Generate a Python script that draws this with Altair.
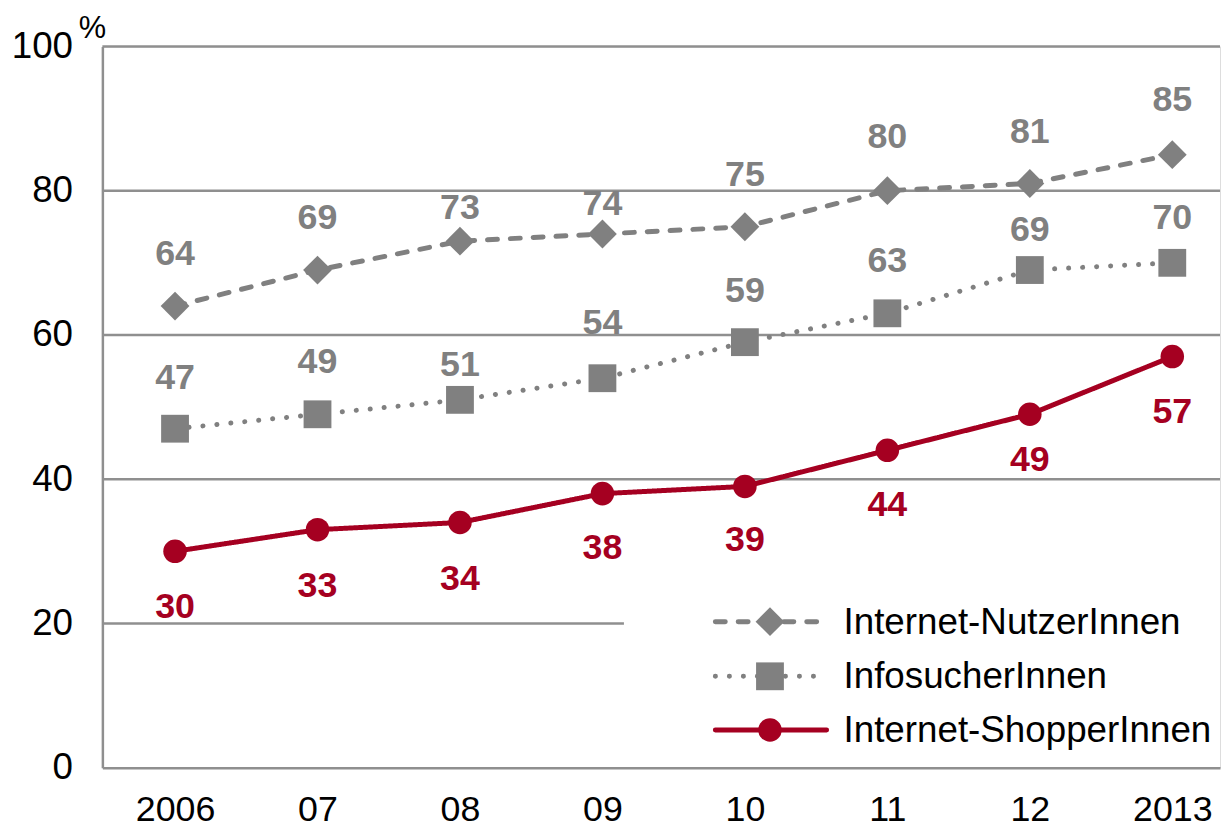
import altair as alt
import pandas as pd

# ---------------- data ----------------
years = ["2006", "07", "08", "09", "10", "11", "12", "2013"]
series_names = ["Internet-NutzerInnen", "InfosucherInnen", "Internet-ShopperInnen"]
nutzer = [64, 69, 73, 74, 75, 80, 81, 85]
info = [47, 49, 51, 54, 59, 63, 69, 70]
shopper = [30, 33, 34, 38, 39, 44, 49, 57]
y_ticks = [0, 20, 40, 60, 80, 100]
grid_full = [40, 60, 80, 100]
grid_short = [20]

# ---------------- style ----------------
W, H = 1125, 726
GRAY = "#808080"
RED = "#A50021"
AXIS = "#8f8f8f"
FONT = "Liberation Sans"
# pixel offsets of the value labels relative to their points
nutzer_lbl_dy = [-52, -52, -33, -30, -52, -54, -52, -55]
info_lbl_dy = [-51, -53, -35, -56, -51, -53, -40, -45]
shop_lbl_dy = [56, 57, 57, 55, 54, 55, 46, 56]

styles = {
    "Internet-NutzerInnen": dict(color=GRAY, dash=[10, 13], shape="diamond", size=841),
    "InfosucherInnen": dict(color=GRAY, dash=[0.1, 14], shape="square", size=784),
    "Internet-ShopperInnen": dict(color=RED, dash=[1, 0], shape="circle", size=560),
}

values_by_series = {
    "Internet-NutzerInnen": (nutzer, nutzer_lbl_dy),
    "InfosucherInnen": (info, info_lbl_dy),
    "Internet-ShopperInnen": (shopper, shop_lbl_dy),
}

label_expr = "[" + ",".join(f"'{y}'" for y in years) + "][datum.value]"
x_scale = alt.Scale(domain=[-0.51, 7.335], nice=False, zero=False)
y_scale = alt.Scale(domain=[0, 100], nice=False)

x_axis = alt.Axis(values=list(range(len(years))), labelExpr=label_expr, title=None,
                  grid=False, ticks=False, labelFont=FONT, labelFontSize=36,
                  labelColor="black", labelPadding=25, domainColor=AXIS,
                  domainWidth=2.5, labelFlush=False)
y_axis = alt.Axis(values=y_ticks, title=None, grid=False, ticks=False,
                  labelFont=FONT, labelFontSize=37, labelColor="black",
                  labelPadding=30, domainColor=AXIS, domainWidth=2.5,
                  labelBaseline="middle")

# gridlines
grid_df = pd.DataFrame({"v": grid_full})
grid = alt.Chart(grid_df).mark_rule(color=AXIS, strokeWidth=2.5).encode(
    y=alt.Y("v:Q", scale=y_scale, axis=y_axis),
    x=alt.value(0), x2=alt.value(W),
)
grid20 = alt.Chart(pd.DataFrame({"v": grid_short})).mark_rule(color=AXIS, strokeWidth=2.5).encode(
    y=alt.Y("v:Q", scale=y_scale),
    x=alt.value(0), x2=alt.value(525),
)

layers = [grid, grid20]

for name in series_names:
    vals, dys = values_by_series[name]
    st = styles[name]
    df = pd.DataFrame({"i": list(range(len(years))), "v": vals, "dy": dys,
                       "txt": [str(v) for v in vals]})
    base = alt.Chart(df).encode(
        x=alt.X("i:Q", scale=x_scale, axis=x_axis),
    )
    line = base.mark_line(color=st["color"], strokeWidth=5, strokeDash=st["dash"],
                          strokeCap="round").encode(
        y=alt.Y("v:Q", scale=y_scale, axis=y_axis))
    pts = base.mark_point(shape=st["shape"], size=st["size"], filled=True,
                          color=st["color"], opacity=1).encode(
        y=alt.Y("v:Q", scale=y_scale, axis=y_axis))
    lbl = base.mark_text(font=FONT, fontSize=36, fontWeight="bold",
                         color=st["color"], baseline="middle", align="center").transform_calculate(
        ly=f"datum.v - datum.dy * 100 / {H}"
    ).encode(
        y=alt.Y("ly:Q", scale=y_scale, axis=y_axis),
        text="txt:N",
    )
    layers += [line, pts, lbl]

# legend (manual)
leg_rows = [579, 634, 688]
for name, ly in zip(series_names, leg_rows):
    st = styles[name]
    ldf = pd.DataFrame({"name": [name]})
    lr = alt.Chart(ldf).mark_rule(color=st["color"], strokeWidth=5, strokeDash=st["dash"],
                                  strokeCap="round").encode(
        x=alt.value(617), x2=alt.value(729), y=alt.value(ly))
    lp = alt.Chart(ldf).mark_point(shape=st["shape"], size=st["size"], filled=True,
                                   color=st["color"], opacity=1).encode(
        x=alt.value(672), y=alt.value(ly))
    lt = alt.Chart(ldf).mark_text(font=FONT, fontSize=37, color="black", align="left",
                                  baseline="middle").encode(
        x=alt.value(746), y=alt.value(ly + 1), text="name:N")
    layers += [lr, lp, lt]

pct = alt.Chart(pd.DataFrame({"t": ["%"]})).mark_text(
    font=FONT, fontSize=31, color="black", align="center", baseline="middle").encode(
    x=alt.value(-10), y=alt.value(-18), text="t:N")
layers.append(pct)

chart = alt.layer(*layers).properties(
    width=W, height=H,
    autosize=alt.AutoSizeParams(type="none"),
    padding={"left": 95, "top": 36, "right": 2, "bottom": 58},
).configure_view(stroke=None).configure(background="white")

chart.save("out.html", embed_options={"renderer": "svg", "actions": False})
